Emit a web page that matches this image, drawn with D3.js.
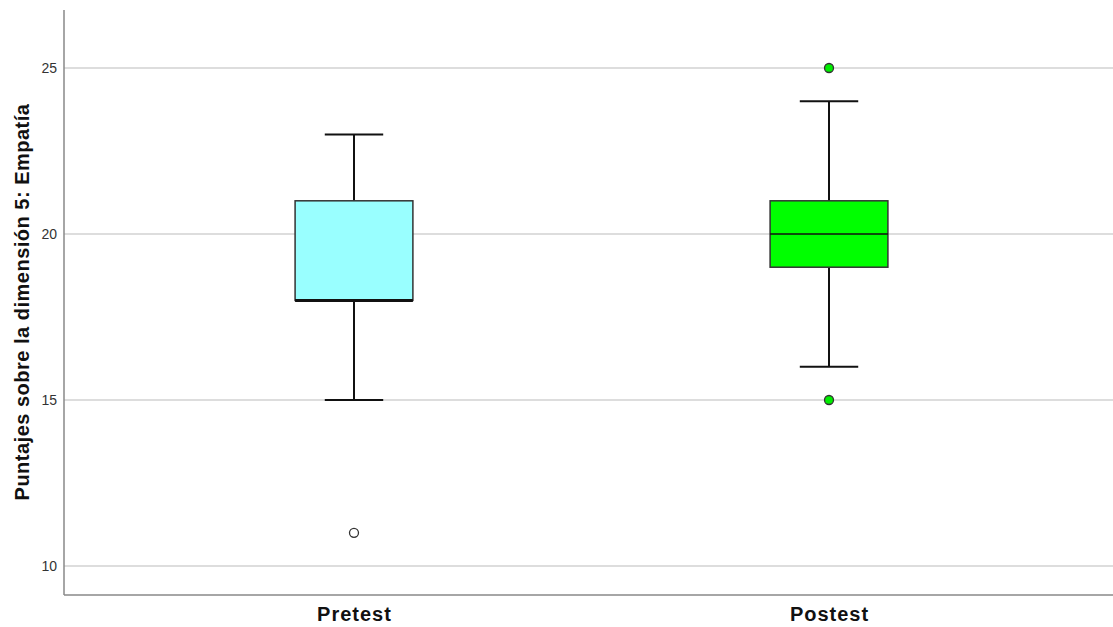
<!DOCTYPE html>
<html>
<head>
<meta charset="utf-8">
<script src="https://cdn.jsdelivr.net/npm/d3@7"></script>
<style>
  html, body { margin: 0; padding: 0; background: #fff; }
  svg { display: block; font-family: "Liberation Sans", Arial, sans-serif; }
</style>
</head>
<body>
<svg id="chart" width="1113" height="627"></svg>
<script>
// Groups and their five-number summaries
const categories = ["Pretest", "Postest"];
const lowerWhisker = [15, 16];
const q1 = [18, 19];
const median = [18, 20];
const q3 = [21, 21];
const upperWhisker = [23, 24];
const outliers = [[11], [25, 15]];
const fills = ["#99ffff", "#00ff00"];
const outlierFills = ["#ffffff", "#00ee00"];
const yTicks = [10, 15, 20, 25];
const yLabel = "Puntajes sobre la dimensión 5: Empatía";

const svg = d3.select("#chart");
const plotLeft = 64, plotTop = 10, plotBottom = 595, plotRight = 1113;

const y = d3.scaleLinear().domain([9.127, 26.747]).range([plotBottom, plotTop]);
const x = d3.scalePoint().domain(categories).range([plotLeft, 1119]).padding(0.6105);
const step = x.step();
const boxW = step * 0.248;
const capW = step * 0.123;

// horizontal gridlines
svg.append("g").selectAll("line").data(yTicks).join("line")
  .attr("x1", plotLeft).attr("x2", plotRight)
  .attr("y1", d => y(d)).attr("y2", d => y(d))
  .attr("stroke", "#d2d2d2").attr("stroke-width", 1.5);

// y axis (labels only, no tick marks)
const yAxis = svg.append("g").attr("transform", `translate(${plotLeft},0)`)
  .call(d3.axisLeft(y).tickValues(yTicks).tickSize(0).tickPadding(7));
yAxis.select(".domain").remove();
yAxis.selectAll("text").attr("font-size", 14).attr("fill", "#333")
  .attr("font-family", "'Liberation Sans', Arial, sans-serif");

// x axis labels
const xAxis = svg.append("g").attr("transform", `translate(0,${plotBottom})`)
  .call(d3.axisBottom(x).tickSize(0).tickPadding(12));
xAxis.select(".domain").remove();
xAxis.selectAll("text").attr("font-size", 20).attr("font-weight", "bold").attr("fill", "#111")
  .attr("letter-spacing", 1)
  .attr("font-family", "'Liberation Sans', Arial, sans-serif");

// axis lines
svg.append("line").attr("x1", plotLeft).attr("x2", plotLeft).attr("y1", plotTop).attr("y2", plotBottom)
  .attr("stroke", "#888").attr("stroke-width", 1.5);
svg.append("line").attr("x1", plotLeft).attr("x2", plotRight).attr("y1", plotBottom).attr("y2", plotBottom)
  .attr("stroke", "#888").attr("stroke-width", 1.5);

// y axis title
svg.append("text")
  .attr("transform", `translate(29,302) rotate(-90)`)
  .attr("text-anchor", "middle")
  .attr("font-size", 20).attr("font-weight", "bold").attr("fill", "#111")
  .attr("letter-spacing", 0.5)
  .text(yLabel);

// boxes
const groups = svg.append("g").selectAll("g").data(categories).join("g");
groups.each(function(c, i) {
  const g = d3.select(this);
  const cx = x(c);
  // whiskers
  g.append("line").attr("x1", cx).attr("x2", cx)
    .attr("y1", y(q3[i])).attr("y2", y(upperWhisker[i]))
    .attr("stroke", "#111").attr("stroke-width", 2);
  g.append("line").attr("x1", cx).attr("x2", cx)
    .attr("y1", y(q1[i])).attr("y2", y(lowerWhisker[i]))
    .attr("stroke", "#111").attr("stroke-width", 2);
  [upperWhisker[i], lowerWhisker[i]].forEach(v => {
    g.append("line").attr("x1", cx - capW / 2).attr("x2", cx + capW / 2)
      .attr("y1", y(v)).attr("y2", y(v))
      .attr("stroke", "#111").attr("stroke-width", 2);
  });
  // box
  g.append("rect")
    .attr("x", cx - boxW / 2).attr("width", boxW)
    .attr("y", y(q3[i])).attr("height", y(q1[i]) - y(q3[i]))
    .attr("fill", fills[i]).attr("stroke", "#333").attr("stroke-width", 1.5);
  // median
  g.append("line").attr("x1", cx - boxW / 2).attr("x2", cx + boxW / 2)
    .attr("y1", y(median[i])).attr("y2", y(median[i]))
    .attr("stroke", "#111").attr("stroke-width", median[i] === q1[i] ? 3 : 1.5);
  // outliers
  g.selectAll("circle").data(outliers[i]).join("circle")
    .attr("cx", cx).attr("cy", d => y(d)).attr("r", 4.5)
    .attr("fill", outlierFills[i]).attr("stroke", "#333").attr("stroke-width", 1.3);
});
</script>
</body>
</html>
